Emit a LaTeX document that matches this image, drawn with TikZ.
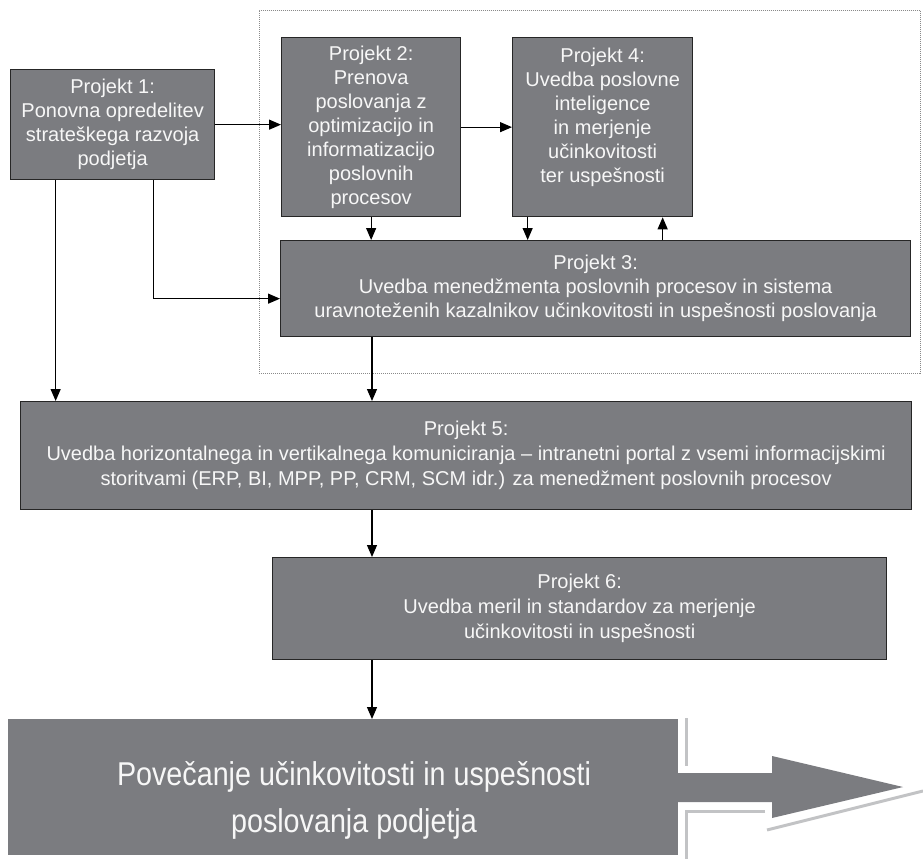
\documentclass[tikz,border=0pt]{standalone}
\usepackage{fontspec}
\setmainfont{Liberation Sans}
\newfontfamily\narrowsans[FakeStretch=0.87]{Liberation Sans}
\usetikzlibrary{arrows.meta,calc}
\definecolor{boxgray}{HTML}{7B7C80}
\definecolor{boxline}{HTML}{262626}
\definecolor{dotgray}{HTML}{8A8A8A}
\definecolor{shadegray}{HTML}{C2C3C5}
\definecolor{txtwhite}{HTML}{F7F7F7}
\begin{document}
\begin{tikzpicture}[x=1pt,y=-1pt,
  pbox/.style={draw=boxline,line width=1.3pt,fill=boxgray,text=txtwhite,align=center,
    inner sep=0pt,anchor=north west,font=\fontsize{20}{24}\selectfont},
  arr/.style={draw=black,line width=1.2pt,-{Triangle[length=12pt,width=10pt]}},
  grpframe/.style={draw=dotgray,line width=0.8pt,dash pattern=on 1pt off 1pt,
    inner sep=0pt,anchor=north west},
  shadeline/.style={draw=shadegray,line width=3pt}]
\useasboundingbox (0,0) rectangle (923,859);
\fill[white] (0,0) rectangle (923,859);

% group frame
\node[grpframe,minimum width=661pt,minimum height=363pt] (grp) at (259,10) {};

% project boxes
\node[pbox,minimum width=204pt,minimum height=110pt] (p1) at (10,69)
  {Projekt 1:\\Ponovna opredelitev\\strateškega razvoja\\podjetja};
\node[pbox,minimum width=179pt,minimum height=179pt] (p2) at (281,37)
  {Projekt 2:\\Prenova\\poslovanja z\\optimizacijo in\\informatizacijo\\poslovnih\\procesov};
\node[pbox,minimum width=180pt,minimum height=179pt] (p4) at (512,37)
  {Projekt 4:\\Uvedba poslovne\\inteligence\\in merjenje\\učinkovitosti\\ter uspešnosti\\\mbox{}};
\node[pbox,minimum width=630pt,minimum height=96pt] (p3) at (280,240)
  {Projekt 3:\\Uvedba menedžmenta poslovnih procesov in sistema\\uravnoteženih kazalnikov učinkovitosti in uspešnosti poslovanja};
\node[pbox,minimum width=891pt,minimum height=108pt,font=\fontsize{20}{25}\selectfont] (p5) at (20,401)
  {Projekt 5:\\Uvedba horizontalnega in vertikalnega komuniciranja – intranetni portal z vsemi informacijskimi\\storitvami (ERP, BI, MPP, PP, CRM, SCM idr.) za menedžment poslovnih procesov};
\node[pbox,minimum width=614pt,minimum height=102pt,font=\fontsize{20}{25}\selectfont] (p6) at (272,557)
  {Projekt 6:\\Uvedba meril in standardov za merjenje\\učinkovitosti in uspešnosti};

% final result shape
\node[fill=boxgray,inner sep=0pt,anchor=north west,
  minimum width=670pt,minimum height=136pt] (fin) at (8,719) {};
\fill[boxgray] (677,773) -- (772,773) -- (772,756) -- (903,787) -- (772,818)
  -- (772,802) -- (677,802) -- cycle;
\draw[shadeline] (686,718) -- (686,766);
\draw[shadeline] (765,811) -- (686,811) -- (686,859);
\draw[shadeline] (767,830) -- (923,791);
\node[text=txtwhite,align=center,inner sep=0pt,font=\narrowsans\fontsize{33}{47}\selectfont]
  (fintxt) at (354,800) {Povečanje učinkovitosti in uspešnosti\\poslovanja podjetja};

% connectors
\coordinate (ax) at (372,0);
\draw[arr] (p1.east) -- (p1.east -| p2.west);
\draw[arr] (p2.east) -- (p4.west);
\draw[arr] ([xshift=41pt]p1.south) |- ([yshift=-10pt]p3.west);
\draw[arr] ([xshift=-57pt]p1.south) -- ([xshift=-57pt]p1.south |- p5.north);
\draw[arr] (p2.south) -- (p2.south |- p3.north);
\draw[arr] ([xshift=-75pt]p4.south) -- ([xshift=-75pt]p4.south |- p3.north);
\draw[arr] ([xshift=60pt]p4.south |- p3.north) -- ([xshift=60pt]p4.south);
\draw[arr] (ax |- p3.south) -- (ax |- p5.north);
\draw[arr] (ax |- p5.south) -- (ax |- p6.north);
\draw[arr] (ax |- p6.south) -- (ax |- fin.north);
\end{tikzpicture}
\end{document}
